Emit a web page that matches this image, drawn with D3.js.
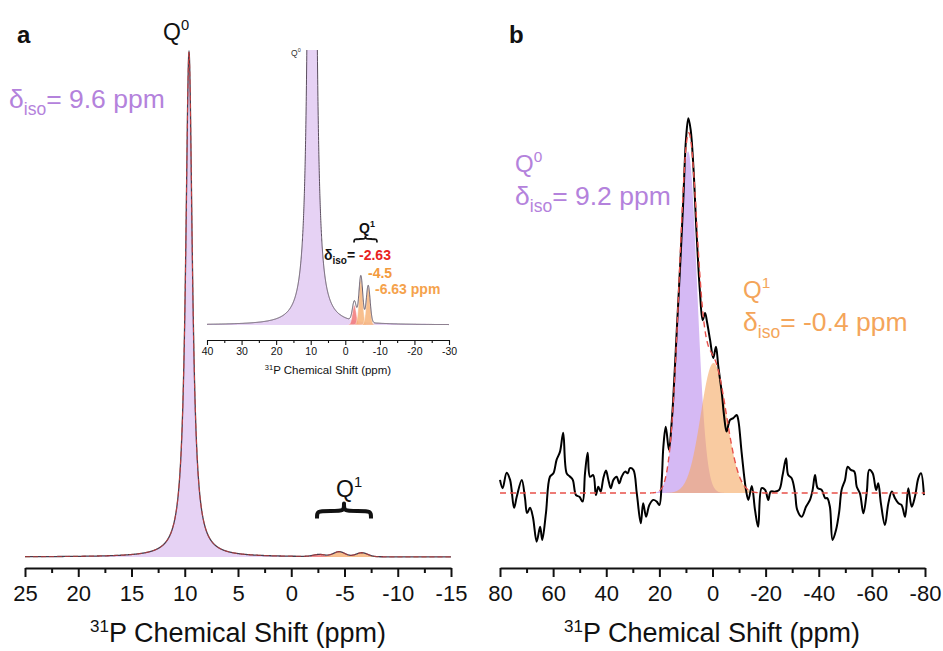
<!DOCTYPE html>
<html>
<head>
<meta charset="utf-8">
<script src="https://cdn.jsdelivr.net/npm/d3@7"></script>
<style>
  body { margin: 0; background: #fff; }
  svg { display: block; }
  text { font-family: Arial, "Liberation Sans", sans-serif; }
</style>
</head>
<body>
<svg id="chart" width="943" height="651"></svg>
<script>
// ---------- Panel a: 31P MAS NMR, Q0 line plus three Q1 sites ----------
const aTicks = [25, 20, 15, 10, 5, 0, -5, -10, -15];
const aMinorTicks = [22.5, 17.5, 12.5, 7.5, 2.5, -2.5, -7.5, -12.5];
const aSites = ["Q0", "Q1a", "Q1b", "Q1c"];
const aShift = [9.6, -2.63, -4.5, -6.63];        // delta_iso, ppm
const aHeight = [1, 0.0042, 0.0098, 0.0079];      // relative intensity
const aWidth = [0.38, 0.55, 0.55, 0.55];          // ppm (Lorentz HWHM / Gauss sigma)
const aShape = ["lorentz", "gauss", "gauss", "gauss"];

// inset (full range view of the same spectrum)
const insetTicks = [40, 30, 20, 10, 0, -10, -20, -30];
const insetMinorTicks = [35, 25, 15, 5, -5, -15, -25];

// ---------- Panel b: second sample, Q0 + Q1 Gaussian fit ----------
const bTicks = [80, 60, 40, 20, 0, -20, -40, -60, -80];
const bMinorTicks = [70, 50, 30, 10, -10, -30, -50, -70];
const bSites = ["Q0", "Q1"];
const bShift = [9.2, -0.4];
const bHeight = [0.99, 0.377];
const bWidth = [3.4, 4.8];

// measured spectrum of panel b (ppm, intensity)
const bExpShift = [80.0, 79.0, 77.5, 76.2, 74.7, 73.7, 71.8, 70.6, 69.8, 68.7, 67.6, 66.2, 64.9, 64.1, 62.7,
  61.2, 59.9, 58.7, 57.4, 56.2, 54.9, 53.6, 52.6, 51.4, 50.1, 48.9, 48.0, 47.0, 46.1, 44.9, 43.9, 43.0,
  42.1, 41.1, 40.1, 39.2, 38.3, 37.3, 36.1, 35.1, 34.2, 32.9, 31.9, 31.1, 29.8, 28.5, 27.0, 26.1, 25.0,
  23.8, 22.3, 21.0, 20.0, 19.1, 18.5, 17.6, 16.4, 15.4, 14.8, 13.5, 12.2, 11.0, 10.0, 9.1, 8.2, 7.2,
  6.0, 4.7, 3.7, 2.8, 2.0, 0.9, -0.3, -1.3, -2.2, -3.5, -4.4, -5.3, -6.6, -7.8, -9.1, -9.7, -11.0,
  -12.6, -13.5, -14.8, -16.0, -17.2, -18.5, -19.8, -21.0, -21.9, -23.5, -25.1, -26.4, -27.7, -28.5,
  -29.8, -31.1, -31.9, -33.6, -35.2, -36.7, -37.7, -38.6, -39.6, -41.1, -42.4, -43.2, -44.2, -45.2,
  -46.5, -47.7, -48.6, -49.9, -50.9, -52.1, -53.4, -54.3, -55.5, -56.8, -58.1, -59.0, -60.3, -61.6,
  -62.4, -63.4, -64.9, -66.2, -67.5, -68.7, -70.0, -71.2, -72.5, -73.7, -75.0, -76.2, -77.5, -78.5, -79.6];
const bExpIntensity = [0.038, 0.014, 0.059, 0.038, -0.043, -0.011, 0.038, -0.014, -0.058, -0.043, -0.070,
  -0.141, -0.098, -0.136, -0.058, 0.047, 0.057, 0.096, 0.120, 0.175, 0.057, 0.047, 0.038, -0.006, -0.011,
  -0.025, 0.057, 0.117, 0.047, 0.052, -0.006, 0.018, 0.004, 0.043, 0.065, 0.038, 0.014, 0.038, 0.047,
  0.028, 0.047, 0.062, 0.057, 0.072, 0.067, -0.001, -0.088, -0.030, -0.069, -0.035, -0.020, -0.025,
  -0.035, 0.038, 0.134, 0.192, 0.125, 0.202, 0.270, 0.464, 0.656, 0.849, 1.023, 1.086, 1.052, 0.946,
  0.753, 0.580, 0.501, 0.522, 0.493, 0.443, 0.391, 0.424, 0.366, 0.290, 0.221, 0.178, 0.212, 0.217,
  0.226, 0.212, 0.115, 0.009, -0.020, 0.020, -0.049, -0.098, 0.014, 0.009, -0.020, 0.004, 0.004, 0.009,
  0.052, 0.101, 0.052, 0.043, -0.001, -0.049, -0.069, -0.040, -0.020, 0.009, 0.052, 0.014, 0.009,
  -0.015, -0.015, -0.040, -0.136, -0.107, -0.054, 0.009, 0.038, 0.076, 0.067, 0.062, 0.018, -0.001,
  -0.059, 0.004, 0.067, 0.057, 0.009, 0.028, -0.030, -0.093, -0.030, 0.004, -0.015, -0.030, -0.035,
  -0.069, 0.014, -0.040, -0.011, 0.043, 0.057, -0.006];

// ---------- helpers ----------
const FONT = 'Arial, "Liberation Sans", sans-serif';
const PURPLE_TEXT = "#b482dc";
const ORANGE_TEXT = "#f4a55a";
const tickFmt = d => String(d);   // plain hyphen-minus for negative shifts

function lineShape(shape, x, c, w) {
  const d = (x - c) / w;
  return shape === "lorentz" ? 1 / (1 + d * d) : Math.exp(-0.5 * d * d);
}
function component(i, shifts, heights, widths, shapes) {
  return x => heights[i] * lineShape(shapes[i], x, shifts[i], widths[i]);
}
function sumOf(fns) { return x => d3.sum(fns, f => f(x)); }

const svg = d3.select("#chart");

function drawAxis(g, scale, y, majors, minors, opt) {
  const minorAxis = d3.axisBottom(scale).tickValues(minors).tickSize(opt.minor)
    .tickSizeOuter(0).tickFormat("");
  const majorAxis = d3.axisBottom(scale).tickValues(majors).tickSize(opt.major)
    .tickSizeOuter(0).tickPadding(opt.pad).tickFormat(tickFmt);
  const gm = g.append("g").attr("transform", `translate(0,${y})`).call(minorAxis);
  gm.select(".domain").remove();
  gm.selectAll("line").attr("stroke", "#111").attr("stroke-width", opt.sw);
  const ga = g.append("g").attr("transform", `translate(0,${y})`).call(majorAxis);
  ga.select(".domain").attr("stroke", "#111").attr("stroke-width", opt.sw);
  ga.selectAll("line").attr("stroke", "#111").attr("stroke-width", opt.sw);
  ga.selectAll("text").attr("font-family", FONT).attr("font-size", opt.fs).attr("fill", "#111");
}

function axisTitle(g, x, y, big, small, lift) {
  const t = g.append("text").attr("x", x).attr("y", y).attr("text-anchor", "middle")
    .attr("fill", "#111").attr("font-family", FONT);
  t.append("tspan").attr("font-size", small).attr("dy", -lift).text("31");
  t.append("tspan").attr("font-size", big).attr("dy", lift).text("P Chemical Shift (ppm)");
}

function qLabel(g, x, y, sup, color, size, bold) {
  const t = g.append("text").attr("x", x).attr("y", y).attr("fill", color)
    .attr("font-size", size).attr("font-weight", bold ? "bold" : "normal");
  t.append("tspan").text("Q");
  t.append("tspan").attr("font-size", size * 0.64).attr("dy", -size * 0.42).text(sup);
  return t;
}

function deltaLabel(g, x, y, value, color, size) {
  const t = g.append("text").attr("x", x).attr("y", y).attr("fill", color).attr("font-size", size);
  t.append("tspan").text("\u03B4");
  t.append("tspan").attr("font-size", size * 0.66).attr("dy", size * 0.26).text("iso");
  t.append("tspan").attr("dy", -size * 0.26).text(`= ${value} ppm`);
  return t;
}

function bracePath(x1, x2, y0, h) {
  const xm = (x1 + x2) / 2, q = h * 0.9;
  return `M${x1},${y0 + h / 2} C${x1},${y0} ${x1},${y0} ${x1 + q},${y0}` +
    ` L${xm - q},${y0} C${xm},${y0} ${xm},${y0} ${xm},${y0 - h / 2}` +
    ` C${xm},${y0} ${xm},${y0} ${xm + q},${y0} L${x2 - q},${y0}` +
    ` C${x2},${y0} ${x2},${y0} ${x2},${y0 + h / 2}`;
}

// ================= Panel a =================
const gA = svg.append("g");
const xA = d3.scaleLinear().domain([25, -15]).range([25, 451]);
const yA = d3.scaleLinear().domain([0, 1]).range([557, 52]);

const aComp = aSites.map((s, i) => component(i, aShift, aHeight, aWidth, aShape));
const aTotal = sumOf(aComp);
const aGrid = d3.range(25, -15.0001, -0.01);
const aFills = ["#e6d2f4", "#f27878", "#f7b47a", "#f7b47a"];

aComp.forEach((f, i) => {
  gA.append("path").datum(aGrid)
    .attr("d", d3.area().x(d => xA(d)).y0(yA(0)).y1(d => yA(f(d))))
    .attr("fill", aFills[i]).attr("fill-opacity", i === 0 ? 1 : 0.85);
});
gA.append("path").datum(aGrid)
  .attr("d", d3.line().x(d => xA(d)).y(d => yA(aTotal(d))))
  .attr("fill", "none").attr("stroke", "#4a3c4c").attr("stroke-width", 1.3);
gA.append("path").datum(aGrid)
  .attr("d", d3.line().x(d => xA(d)).y(d => yA(aTotal(d))))
  .attr("fill", "none").attr("stroke", "#e0403c").attr("stroke-width", 1).attr("stroke-dasharray", "5,3")
  .attr("stroke-opacity", 0.85);

drawAxis(gA, xA, 568, aTicks, aMinorTicks, { major: 9, minor: 5, pad: 8, sw: 2, fs: 22 });
axisTitle(gA, 238, 642, 27, 17, 10);

gA.append("text").attr("x", 17).attr("y", 43).attr("font-size", 24).attr("font-weight", "bold")
  .attr("fill", "#111").text("a");
qLabel(gA, 163, 40, "0", "#111", 23, false);
deltaLabel(gA, 9, 108, String(aShift[0]), PURPLE_TEXT, 26.5);
qLabel(gA, 336, 497, "1", "#111", 23, false);
gA.append("path").attr("d", bracePath(317, 371, 511, 15))
  .attr("fill", "none").attr("stroke", "#111").attr("stroke-width", 4).attr("stroke-linejoin", "round");

// ---------- inset ----------
const gI = svg.append("g");
const xI = d3.scaleLinear().domain([40, -30]).range([207, 449]);
const yI = d3.scaleLinear().domain([0, 1]).range([325, 325 - 4700]);
svg.append("clipPath").attr("id", "insetClip")
  .append("rect").attr("x", 200).attr("y", 50).attr("width", 260).attr("height", 290);
const gIc = gI.append("g").attr("clip-path", "url(#insetClip)");
const iGrid = d3.range(40, -30.0001, -0.02);
aComp.forEach((f, i) => {
  gIc.append("path").datum(iGrid)
    .attr("d", d3.area().x(d => xI(d)).y0(yI(0)).y1(d => yI(f(d))))
    .attr("fill", aFills[i]).attr("fill-opacity", i === 0 ? 1 : 0.85)
    .attr("stroke", i === 0 ? "none" : "#fff").attr("stroke-width", 0.6).attr("stroke-opacity", 0.7);
});
gIc.append("path").datum(iGrid)
  .attr("d", d3.line().x(d => xI(d)).y(d => yI(aTotal(d))))
  .attr("fill", "none").attr("stroke", "#5a4d5e").attr("stroke-width", 1);

drawAxis(gI, xI, 340, insetTicks, insetMinorTicks, { major: 5, minor: 3, pad: 3, sw: 1.1, fs: 10.5 });
axisTitle(gI, 328, 374, 11.5, 7.5, 4);

qLabel(gI, 291, 56, "0", "#333", 8.5, false);
qLabel(gI, 359, 233, "1", "#111", 14, true);
gI.append("path").attr("d", bracePath(354, 377, 239, 7))
  .attr("fill", "none").attr("stroke", "#111").attr("stroke-width", 1.8);
{
  const t = gI.append("text").attr("x", 324).attr("y", 260).attr("font-size", 14)
    .attr("font-weight", "bold").attr("fill", "#111");
  t.append("tspan").text("\u03B4");
  t.append("tspan").attr("font-size", 10).attr("dy", 4).text("iso");
  t.append("tspan").attr("dy", -4).text("= ");
  t.append("tspan").attr("fill", "#e8231f").text(String(aShift[1]));
  gI.append("text").attr("x", 368).attr("y", 278).attr("font-size", 14).attr("font-weight", "bold")
    .attr("fill", "#f39a3c").text(String(aShift[2]));
  gI.append("text").attr("x", 375).attr("y", 294).attr("font-size", 14).attr("font-weight", "bold")
    .attr("fill", "#f5a24c").text(`${aShift[3]} ppm`);
}

// ================= Panel b =================
const gB = svg.append("g");
const xB = d3.scaleLinear().domain([80, -80]).range([500, 925]);
const yB = d3.scaleLinear().domain([0, 1]).range([493, 148]);

const bComp = bSites.map((s, i) => component(i, bShift, bHeight, bWidth, ["gauss", "gauss"]));
const bTotal = sumOf(bComp);
const bGrid = d3.range(80, -80.0001, -0.1);

gB.append("path").datum(bGrid)
  .attr("d", d3.area().x(d => xB(d)).y0(yB(0)).y1(d => yB(bComp[0](d))))
  .attr("fill", "#d5b9f4");
gB.append("path").datum(bGrid)
  .attr("d", d3.area().x(d => xB(d)).y0(yB(0)).y1(d => yB(bComp[1](d))))
  .attr("fill", "#f5a862").attr("fill-opacity", 0.6);

const bExp = bExpShift.map((s, i) => [s, bExpIntensity[i]]);
gB.append("path").datum(bExp)
  .attr("d", d3.line().x(d => xB(d[0])).y(d => yB(d[1])).curve(d3.curveCatmullRom.alpha(0.5)))
  .attr("fill", "none").attr("stroke", "#000").attr("stroke-width", 2).attr("stroke-linejoin", "round");
gB.append("path").datum(bGrid)
  .attr("d", d3.line().x(d => xB(d)).y(d => yB(bTotal(d))))
  .attr("fill", "none").attr("stroke", "#e8504a").attr("stroke-width", 1.4).attr("stroke-dasharray", "6,4");

drawAxis(gB, xB, 568, bTicks, bMinorTicks, { major: 9, minor: 5, pad: 8, sw: 2, fs: 22 });
axisTitle(gB, 712, 642, 27, 17, 10);

gB.append("text").attr("x", 509).attr("y", 43).attr("font-size", 24).attr("font-weight", "bold")
  .attr("fill", "#111").text("b");
qLabel(gB, 515, 172, "0", PURPLE_TEXT, 24, false);
deltaLabel(gB, 515, 205, String(bShift[0]), PURPLE_TEXT, 26.5);
qLabel(gB, 743, 298, "1", ORANGE_TEXT, 24, false);
deltaLabel(gB, 743, 331, String(bShift[1]), ORANGE_TEXT, 26.5);
</script>
</body>
</html>
